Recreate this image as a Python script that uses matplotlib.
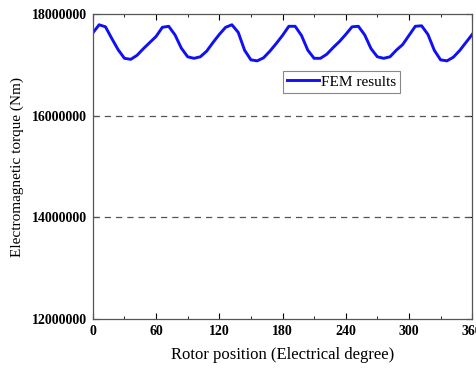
import matplotlib
matplotlib.use('Agg')
import matplotlib.pyplot as plt
from matplotlib.ticker import MultipleLocator, FormatStrFormatter

# rotor position (electrical degree) and FEM torque (x1e6 Nm)
position = list(range(0, 361, 6))
torque_mnm = [17.63, 17.79, 17.75, 17.52, 17.30, 17.13, 17.11, 17.19, 17.32, 17.44,
              17.56, 17.74, 17.76, 17.59, 17.33, 17.16, 17.13, 17.16, 17.27, 17.44,
              17.60, 17.74, 17.79, 17.64, 17.29, 17.10, 17.08, 17.14, 17.27, 17.42,
              17.58, 17.76, 17.76, 17.58, 17.29, 17.13, 17.13, 17.21, 17.34, 17.46,
              17.60, 17.75, 17.76, 17.59, 17.32, 17.16, 17.13, 17.16, 17.29, 17.40,
              17.58, 17.76, 17.77, 17.60, 17.29, 17.10, 17.08, 17.15, 17.28, 17.44,
              17.60]
torque = [v * 1e6 for v in torque_mnm]

plt.rcParams['font.family'] = ['Liberation Serif', 'DejaVu Serif']

fig = plt.figure(figsize=(4.76, 3.71), dpi=100)
ax = fig.add_axes([0.195, 0.140, 0.797, 0.822])

ax.plot(position, torque, color='#1010f5', linewidth=2.1, label='FEM results')

ax.set_xlim(0, 360)
ax.set_ylim(12000000, 18000000)
ax.xaxis.set_major_locator(MultipleLocator(60))
ax.xaxis.set_minor_locator(MultipleLocator(30))
ax.yaxis.set_major_locator(MultipleLocator(2000000))
ax.yaxis.set_major_formatter(FormatStrFormatter('%d'))

ax.tick_params(which='both', direction='in', top=True, right=True, labelsize=10, pad=4)
ax.tick_params(which='major', length=4)
ax.tick_params(which='minor', length=2)
for lbl in ax.get_xticklabels() + ax.get_yticklabels():
    lbl.set_fontweight('bold')

for val in [14000000, 16000000]:
    ax.axhline(val, color='#555555', linestyle=(0, (5, 4)), linewidth=0.9)

for sp in ax.spines.values():
    sp.set_color('#555555')
    sp.set_linewidth(0.9)

ax.set_xlabel('Rotor position (Electrical degree)', fontsize=12, labelpad=7)
ax.set_ylabel('Electromagnetic torque (Nm)', fontsize=11, labelpad=6)

leg = ax.legend(loc='upper left', bbox_to_anchor=(0.50, 0.815), fontsize=11,
                fancybox=False, framealpha=1, edgecolor='#888888',
                handlelength=2.1, handletextpad=0.1, borderpad=0.3,
                borderaxespad=0)
leg.get_frame().set_linewidth(0.8)

plt.savefig('out.png', dpi=100)
plt.close()
